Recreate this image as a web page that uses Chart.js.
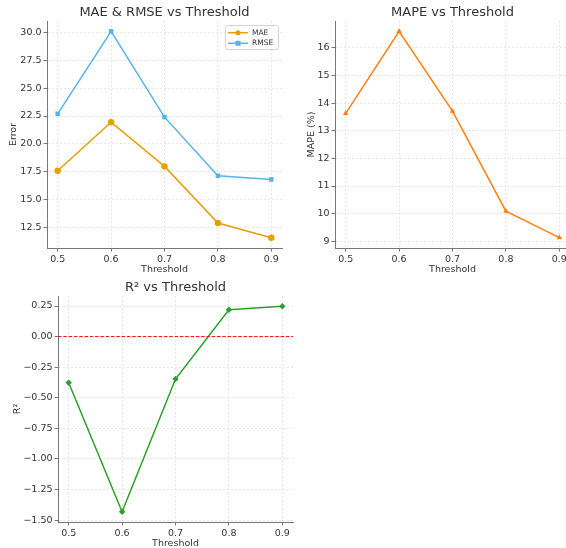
<!DOCTYPE html>
<html>
<head>
<meta charset="utf-8">
<script src="https://cdn.jsdelivr.net/npm/chart.js@4.4.0/dist/chart.umd.min.js"></script>
<style>
html, body { margin: 0; padding: 0; background: #fff; }
body { width: 566px; height: 548px; overflow: hidden; position: relative; }
.panel { position: absolute; }
</style>
</head>
<body>
<div class="panel" style="left:0;top:0;"><canvas id="errChart" width="286" height="275"></canvas></div>
<div class="panel" style="left:300px;top:0;"><canvas id="mapeChart" width="274" height="275"></canvas></div>
<div class="panel" style="left:0;top:275px;"><canvas id="r2Chart" width="297" height="274"></canvas></div>
<script>
// dữ liệu
const thresholds = [0.5, 0.6, 0.7, 0.8, 0.9];
const maeValues = [17.6, 21.95, 17.99, 12.91, 11.6];
const rmseValues = [22.7, 30.09, 22.4, 17.15, 16.82];
const mapeValues = [13.63, 16.6, 13.71, 10.09, 9.13];
const r2Values = [-0.377, -1.432, -0.347, 0.22, 0.248];

// nhãn trục
const thresholdTicks = [0.5, 0.6, 0.7, 0.8, 0.9];
const errorTicks = [12.5, 15, 17.5, 20, 22.5, 25, 27.5, 30];
const mapeTicks = [9, 10, 11, 12, 13, 14, 15, 16];
const r2Ticks = [-1.5, -1.25, -1, -0.75, -0.5, -0.25, 0, 0.25];
const r2Baseline = 0;

const fontFamily = '"DejaVu Sans", sans-serif';
const tickFont = { family: fontFamily, size: 9.5 };
const textColor = '#333';
const gridColor = '#e0e0e0';
const spineColor = '#777';

// giới hạn trục kiểu matplotlib (lề 5%)
function padRange(values) {
    const lo = Math.min(...values);
    const hi = Math.max(...values);
    const m = (hi - lo) * 0.05;
    return [lo - m, hi + m];
}

function toPoints(xs, ys) {
    return xs.map((x, i) => ({ x: x, y: ys[i] }));
}

function minusSign(s) {
    return s.replace('-', '\u2212');
}

function makeAxis(o) {
    return {
        type: 'linear',
        position: o.position,
        min: o.range[0],
        max: o.range[1],
        afterBuildTicks: s => { s.ticks = o.ticks.map(v => ({ value: v })); },
        afterFit: s => {
            if (o.width) s.width = o.width;
            if (o.height) s.height = o.height;
        },
        ticks: {
            font: tickFont,
            color: textColor,
            padding: 2,
            autoSkip: false,
            maxRotation: 0,
            callback: o.format
        },
        grid: {
            color: gridColor,
            lineWidth: 0.8,
            tickLength: 3.5,
            tickColor: spineColor,
            tickWidth: 1,
            tickBorderDash: []
        },
        border: { color: spineColor, width: 1, dash: [2, 2] },
        title: {
            display: true,
            text: o.title,
            font: tickFont,
            color: textColor,
            padding: o.titlePad
        }
    };
}

// tiêu đề ở giữa vùng vẽ
const panelTitle = {
    id: 'panelTitle',
    afterDraw(chart, args, opts) {
        const { ctx, chartArea } = chart;
        ctx.save();
        ctx.font = '13px ' + fontFamily;
        ctx.fillStyle = textColor;
        ctx.textAlign = 'center';
        ctx.textBaseline = 'middle';
        ctx.fillText(opts.text, (chartArea.left + chartArea.right) / 2, chartArea.top - 8.5);
        ctx.restore();
    }
};

function drawMarker(ctx, style, x, y, r) {
    ctx.beginPath();
    if (style === 'rect') {
        ctx.rect(x - r, y - r, 2 * r, 2 * r);
    } else {
        ctx.arc(x, y, r, 0, Math.PI * 2);
    }
    ctx.fill();
}

// chú thích trong góc phải trên
const boxLegend = {
    id: 'boxLegend',
    afterDraw(chart) {
        const { ctx, chartArea } = chart;
        const sets = chart.data.datasets;
        const w = 53, h = 24, rowH = 10.6;
        const x = chartArea.right - 4 - w;
        const y = chartArea.top + 4;
        ctx.save();
        ctx.fillStyle = 'rgba(255,255,255,0.85)';
        ctx.strokeStyle = '#d5d5d5';
        ctx.lineWidth = 1;
        ctx.beginPath();
        ctx.roundRect(x + 0.5, y + 0.5, w, h, 2);
        ctx.fill();
        ctx.stroke();
        sets.forEach((ds, i) => {
            const cy = y + 7.7 + i * rowH;
            ctx.strokeStyle = ds.borderColor;
            ctx.lineWidth = 1.5;
            ctx.beginPath();
            ctx.moveTo(x + 3, cy);
            ctx.lineTo(x + 23, cy);
            ctx.stroke();
            ctx.fillStyle = ds.borderColor;
            drawMarker(ctx, ds.pointStyle, x + 13, cy, 2.5);
            ctx.fillStyle = textColor;
            ctx.font = '7.5px ' + fontFamily;
            ctx.textAlign = 'left';
            ctx.textBaseline = 'middle';
            ctx.fillText(ds.label, x + 27, cy);
        });
        ctx.restore();
    }
};

// đường y = 0 màu đỏ
const zeroLine = {
    id: 'zeroLine',
    afterDatasetsDraw(chart) {
        const { ctx, chartArea, scales } = chart;
        const py = scales.y.getPixelForValue(r2Baseline);
        ctx.save();
        ctx.strokeStyle = '#ff0000';
        ctx.lineWidth = 1;
        ctx.setLineDash([3.5, 1.8]);
        ctx.beginPath();
        ctx.moveTo(chartArea.left, py);
        ctx.lineTo(chartArea.right, py);
        ctx.stroke();
        ctx.restore();
    }
};

function lineSet(label, data, color, style, radius) {
    return {
        label: label,
        data: data,
        borderColor: color,
        backgroundColor: color,
        borderWidth: 1.5,
        pointStyle: style,
        pointRadius: radius,
        pointBorderWidth: 0,
        pointBackgroundColor: color,
        tension: 0,
        fill: false
    };
}

const baseOptions = {
    responsive: false,
    devicePixelRatio: 1,
    animation: false,
    events: []
};

const xRange = padRange(thresholds);
const fmtX = v => v.toFixed(1);

// Biểu đồ 1: MAE & RMSE
new Chart(document.getElementById('errChart'), {
    type: 'line',
    data: {
        datasets: [
            lineSet('MAE', toPoints(thresholds, maeValues), '#E69F00', 'circle', 3.2),
            lineSet('RMSE', toPoints(thresholds, rmseValues), '#56B4E9', 'rect', 3.2)
        ]
    },
    plugins: [panelTitle, boxLegend],
    options: Object.assign({}, baseOptions, {
        layout: { padding: { top: 21, right: 4, left: 0, bottom: 0 } },
        plugins: {
            legend: { display: false },
            tooltip: { enabled: false },
            panelTitle: { text: 'MAE & RMSE vs Threshold' }
        },
        scales: {
            x: makeAxis({ position: 'bottom', range: xRange, ticks: thresholdTicks, format: fmtX,
                title: 'Threshold', height: 27, titlePad: { top: 0, bottom: 0 } }),
            y: makeAxis({ position: 'left', range: padRange(maeValues.concat(rmseValues)), ticks: errorTicks,
                format: v => v.toFixed(1), title: 'Error', width: 47, titlePad: { top: 8, bottom: 0 } })
        }
    })
});

// Biểu đồ 2: MAPE
new Chart(document.getElementById('mapeChart'), {
    type: 'line',
    data: {
        datasets: [lineSet('MAPE', toPoints(thresholds, mapeValues), '#FF7F0E', 'triangle', 3.2)]
    },
    plugins: [panelTitle],
    options: Object.assign({}, baseOptions, {
        layout: { padding: { top: 21, right: 4, left: 0, bottom: 0 } },
        plugins: {
            legend: { display: false },
            tooltip: { enabled: false },
            panelTitle: { text: 'MAPE vs Threshold' }
        },
        scales: {
            x: makeAxis({ position: 'bottom', range: xRange, ticks: thresholdTicks, format: fmtX,
                title: 'Threshold', height: 27, titlePad: { top: 0, bottom: 0 } }),
            y: makeAxis({ position: 'left', range: padRange(mapeValues), ticks: mapeTicks,
                format: v => String(v), title: 'MAPE (%)', width: 35, titlePad: { top: 6, bottom: 0 } })
        }
    })
});

// Biểu đồ 3: R²
new Chart(document.getElementById('r2Chart'), {
    type: 'line',
    data: {
        datasets: [lineSet('R²', toPoints(thresholds, r2Values), '#2CA02C', 'rectRot', 3.2)]
    },
    plugins: [panelTitle, zeroLine],
    options: Object.assign({}, baseOptions, {
        layout: { padding: { top: 21, right: 4, left: 0, bottom: 0 } },
        plugins: {
            legend: { display: false },
            tooltip: { enabled: false },
            panelTitle: { text: 'R² vs Threshold' }
        },
        scales: {
            x: makeAxis({ position: 'bottom', range: xRange, ticks: thresholdTicks, format: fmtX,
                title: 'Threshold', height: 27, titlePad: { top: 0, bottom: 0 } }),
            y: makeAxis({ position: 'left', range: padRange(r2Values), ticks: r2Ticks,
                format: v => minusSign(v.toFixed(2)), title: 'R²', width: 58, titlePad: { top: 12, bottom: 0 } })
        }
    })
});
</script>
</body>
</html>
